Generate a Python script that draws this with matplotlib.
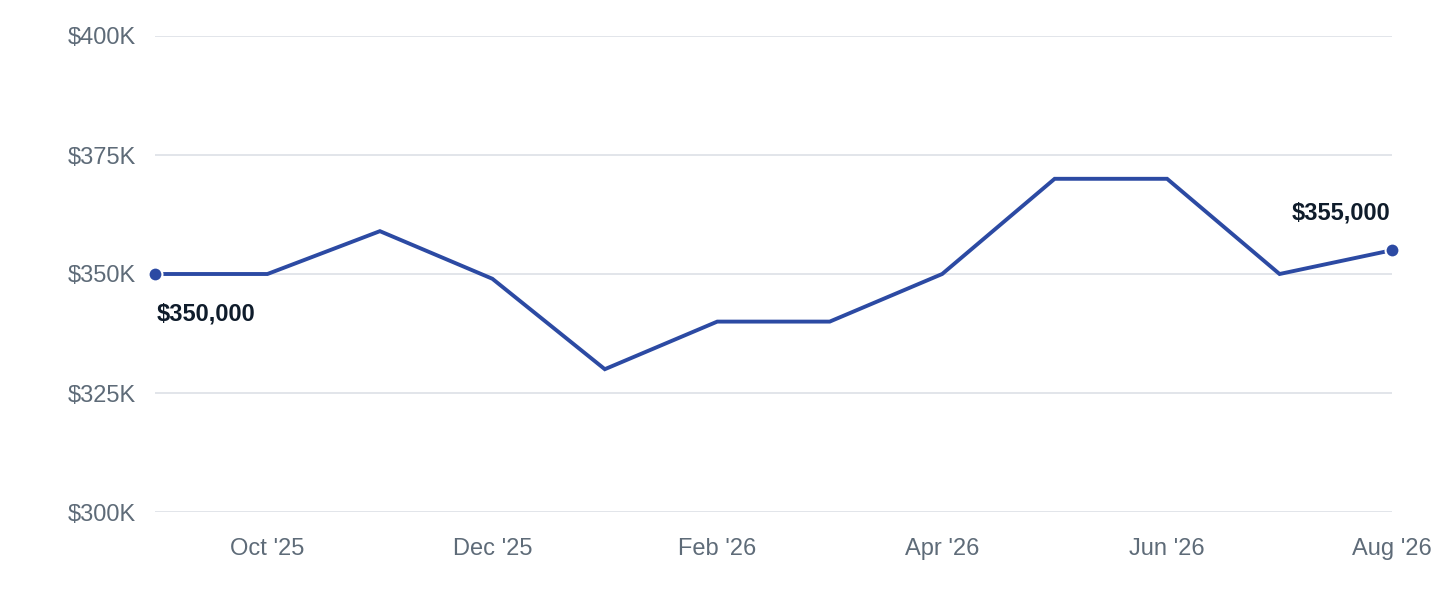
import numpy as np
import matplotlib
matplotlib.use("Agg")
from matplotlib import pyplot as plt
from matplotlib.ticker import FuncFormatter

months = ["Sep '25", "Oct '25", "Nov '25", "Dec '25", "Jan '26", "Feb '26",
          "Mar '26", "Apr '26", "May '26", "Jun '26", "Jul '26", "Aug '26"]
values = [350000, 350000, 359000, 349000, 330000, 340000,
          340000, 350000, 370000, 370000, 350000, 355000]
yticks = [300000, 325000, 350000, 375000, 400000]

plt.rcParams["font.family"] = ["Liberation Sans", "DejaVu Sans"]

line_color = "#2c4aa3"
tick_color = "#5e6b78"

fig = plt.figure(figsize=(14.4, 6), dpi=100)
ax = fig.add_axes([155 / 1440, 1 - 512 / 600, (1392 - 155) / 1440, (512 - 36) / 600])

x = np.arange(len(months))
ax.plot(x, values, color=line_color, lw=2.8, solid_joinstyle="miter", zorder=3)
ax.plot([x[0], x[-1]], [values[0], values[-1]], "o", color=line_color, ms=10,
        mec="white", mew=1.5, zorder=4, clip_on=False)

ax.annotate("${:,.0f}".format(values[0]), (x[0], values[0]), xytext=(1, -29),
            textcoords="offset points", ha="left", va="center",
            fontsize=17, fontweight="bold", color="#0f1c2b")
ax.annotate("${:,.0f}".format(values[-1]), (x[-1], values[-1]), xytext=(-1, 27),
            textcoords="offset points", ha="right", va="center",
            fontsize=17, fontweight="bold", color="#0f1c2b")

ax.set_xlim(x[0], x[-1])
ax.set_ylim(yticks[0], yticks[-1])
ax.set_yticks(yticks)
ax.yaxis.set_major_formatter(FuncFormatter(lambda v, p: "${:.0f}K".format(v / 1000)))
ax.set_xticks(x[1::2])
ax.set_xticklabels(months[1::2])

ax.grid(axis="y", color="#e2e5ea", lw=1.4)
ax.set_axisbelow(True)
for s in ax.spines.values():
    s.set_visible(False)
ax.tick_params(length=0, labelsize=17, labelcolor=tick_color)
ax.tick_params(axis="y", pad=14)
ax.tick_params(axis="x", pad=19)

plt.savefig("out.png", dpi=100)
